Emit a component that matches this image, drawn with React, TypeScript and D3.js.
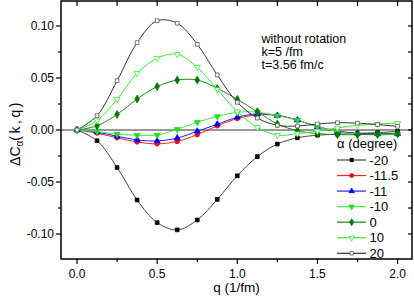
import * as React from "react"
import * as d3 from "d3"

const qValues = [0, 0.125, 0.25, 0.375, 0.5, 0.625, 0.75, 0.875, 1.0, 1.125, 1.25, 1.375, 1.5, 1.625, 1.75, 1.875, 2.0]

const alphaM20 = [0, -0.0103, -0.036, -0.0673, -0.089, -0.096, -0.0865, -0.0667, -0.044, -0.0256, -0.0135, -0.0075, -0.005, -0.004, -0.0035, -0.0025, -0.0015]
const alphaM115 = [0, -0.003, -0.0075, -0.0115, -0.0133, -0.011, -0.0045, 0.004, 0.011, 0.0145, 0.014, 0.0095, 0.0035, -0.001, -0.003, -0.0035, -0.0035]
const alphaM11 = [0, -0.002, -0.006, -0.0095, -0.0105, -0.0078, -0.0012, 0.0055, 0.0122, 0.0155, 0.014, 0.0095, 0.003, -0.0015, -0.0032, -0.0038, -0.0038]
const alphaM10 = [0, -0.0015, -0.004, -0.005, -0.0048, 0.0006, 0.0075, 0.013, 0.017, 0.0172, 0.0138, 0.0096, 0.0032, -0.0016, -0.004, -0.0048, -0.0042]
const alpha0 = [0, 0.004, 0.015, 0.0298, 0.0417, 0.048, 0.048, 0.04, 0.0295, 0.0176, 0.0058, -0.0007, -0.0035, -0.0045, -0.0045, -0.004, -0.0035]
const alpha10 = [0, 0.009, 0.0295, 0.0545, 0.069, 0.0728, 0.0603, 0.039, 0.0176, 0.0026, -0.005, -0.0035, -0.001, 0.002, 0.0045, 0.0058, 0.0065]
const alpha20 = [0, 0.0138, 0.0474, 0.084, 0.105, 0.1026, 0.0824, 0.0529, 0.0266, 0.0115, 0.0045, 0.0038, 0.0058, 0.007, 0.0066, 0.0052, 0.0035]

const seriesLabels = ["-20", "-11.5", "-11", "-10", "0", "10", "20"]
const xTicks = [0, 0.5, 1.0, 1.5, 2.0]
const xMinor = [0.25, 0.75, 1.25, 1.75]
const yTicks = [-0.1, -0.05, 0, 0.05, 0.1]
const yMinor = [-0.075, -0.025, 0.025, 0.075]
const notes = ["without rotation", "k=5 /fm", "t=3.56 fm/c"]

const FONT = "'Liberation Sans', Arial, sans-serif"

function ChartC() {
  const svgRef = React.useRef(null)

  const width = 414
  const height = 299
  const margin = { top: 1, right: 2, bottom: 40, left: 61 }

  const makeChart = () => {
    const svg = d3.select(svgRef.current)
    svg.selectAll("*").remove()

    const x = d3.scaleLinear().domain([-0.1, 2.09]).range([margin.left, width - margin.right])
    const y = d3.scaleLinear().domain([-0.124, 0.124]).range([height - margin.bottom, margin.top])

    const x0 = margin.left
    const x1 = width - margin.right
    const y0 = height - margin.bottom
    const y1 = margin.top

    const series = [
      { values: alphaM20, line: "#444", fill: "#000", stroke: "#000", sym: d3.symbolSquare, size: 14 },
      { values: alphaM115, line: "#ff2020", fill: "#ff0000", stroke: "#ff0000", sym: d3.symbolCircle, size: 16 },
      { values: alphaM11, line: "#2020ff", fill: "#0000ff", stroke: "#0000ff", sym: d3.symbolTriangle, size: 16 },
      { values: alphaM10, line: "#44ee44", fill: "#22dd22", stroke: "#22dd22", sym: d3.symbolTriangle, size: 16, rot: 180 },
      { values: alpha0, line: "#1a8a1a", fill: "#007a00", stroke: "#007a00", sym: d3.symbolDiamond, size: 18 },
      { values: alpha10, line: "#33ee33", fill: "#fff", stroke: "#33ee33", sym: d3.symbolTriangle, size: 16, rot: 180 },
      { values: alpha20, line: "#333", fill: "#fff", stroke: "#555", sym: d3.symbolSquare, size: 14 },
    ]

    // zero line
    svg.append("line")
      .attr("x1", x0).attr("x2", x1)
      .attr("y1", y(0)).attr("y2", y(0))
      .attr("stroke", "#333").attr("stroke-width", 1)

    const lineGen = d3.line()
      .x((d) => x(d[0]))
      .y((d) => y(d[1]))
      .curve(d3.curveCatmullRom.alpha(0.5))

    series.forEach((s) => {
      const pts = qValues.map((q, i) => [q, s.values[i]])
      svg.append("path")
        .datum(pts)
        .attr("fill", "none")
        .attr("stroke", s.line)
        .attr("stroke-width", 1)
        .attr("d", lineGen)
    })

    series.forEach((s) => {
      const pts = qValues.map((q, i) => [q, s.values[i]])
      svg.append("g")
        .selectAll("path")
        .data(pts)
        .join("path")
        .attr("transform", (d) => `translate(${x(d[0])},${y(d[1])}) rotate(${s.rot || 0})`)
        .attr("d", d3.symbol().type(s.sym).size(s.size))
        .attr("fill", s.fill)
        .attr("stroke", s.stroke)
        .attr("stroke-width", 0.8)
    })

    // frame
    svg.append("rect")
      .attr("x", x0).attr("y", y1)
      .attr("width", x1 - x0).attr("height", y0 - y1)
      .attr("fill", "none").attr("stroke", "#000").attr("stroke-width", 1.5)

    const ticks = svg.append("g").attr("stroke", "#000").attr("stroke-width", 1.2)
    xTicks.forEach((t) => {
      ticks.append("line").attr("x1", x(t)).attr("x2", x(t)).attr("y1", y0).attr("y2", y0 + 5)
      ticks.append("line").attr("x1", x(t)).attr("x2", x(t)).attr("y1", y1).attr("y2", y1 + 5)
    })
    xMinor.forEach((t) => {
      ticks.append("line").attr("x1", x(t)).attr("x2", x(t)).attr("y1", y0).attr("y2", y0 + 3)
      ticks.append("line").attr("x1", x(t)).attr("x2", x(t)).attr("y1", y1).attr("y2", y1 + 5)
    })
    yTicks.forEach((t) => {
      ticks.append("line").attr("x1", x0 - 5).attr("x2", x0).attr("y1", y(t)).attr("y2", y(t))
      ticks.append("line").attr("x1", x1 - 4).attr("x2", x1).attr("y1", y(t)).attr("y2", y(t))
    })
    yMinor.forEach((t) => {
      ticks.append("line").attr("x1", x0 - 3).attr("x2", x0).attr("y1", y(t)).attr("y2", y(t))
      ticks.append("line").attr("x1", x1 - 4).attr("x2", x1).attr("y1", y(t)).attr("y2", y(t))
    })

    const labels = svg.append("g").attr("font-family", FONT).attr("font-size", 12).attr("fill", "#000")
    xTicks.forEach((t) => {
      labels.append("text").attr("x", x(t)).attr("y", 277.5).attr("text-anchor", "middle").text(t.toFixed(1))
    })
    yTicks.forEach((t) => {
      labels.append("text").attr("x", 54).attr("y", y(t) + 4.3).attr("text-anchor", "end").text(t.toFixed(2))
    })

    svg.append("text")
      .attr("x", (x0 + x1) / 2).attr("y", 291.5)
      .attr("text-anchor", "middle")
      .attr("font-family", FONT).attr("font-size", 13.5)
      .text("q (1/fm)")

    const yl = svg.append("text")
      .attr("transform", `translate(20,133) rotate(-90)`)
      .attr("text-anchor", "middle")
      .attr("font-family", FONT).attr("font-size", 14)
    yl.append("tspan").text("\u0394C")
    yl.append("tspan").attr("font-size", 10).attr("dy", 3).text("\u03b1")
    yl.append("tspan").attr("dy", -3).attr("letter-spacing", 2.5).text("(k,q)")

    notes.forEach((n, i) => {
      svg.append("text")
        .attr("x", 261.5).attr("y", 42.5 + i * 13)
        .attr("font-family", FONT).attr("font-size", 12.5)
        .text(n)
    })

    // legend
    const lg = svg.append("g").attr("font-family", FONT)
    lg.append("text").attr("x", 337).attr("y", 147.5).attr("font-size", 13).text("\u03b1 (degree)")
    series.forEach((s, i) => {
      const ly = 160 + i * 15.55
      lg.append("line").attr("x1", 337).attr("x2", 366).attr("y1", ly).attr("y2", ly)
        .attr("stroke", s.line).attr("stroke-width", 1.2)
      lg.append("path")
        .attr("transform", `translate(351.7,${ly}) rotate(${s.rot || 0})`)
        .attr("d", d3.symbol().type(s.sym).size(s.size * 0.8))
        .attr("fill", s.fill).attr("stroke", s.stroke).attr("stroke-width", 0.8)
      lg.append("text").attr("x", 369.5).attr("y", ly + 4.7).attr("font-size", 13).text(seriesLabels[i])
    })

    return svg.node()
  }

  React.useEffect(() => {
    makeChart()
  }, [])

  return (
    <svg
      ref={svgRef}
      width={width}
      height={height}
      style={{ position: "absolute", left: 0, top: 0, background: "#fff" }}
    ></svg>
  )
}

export default function App() {
  return <ChartC />
}
